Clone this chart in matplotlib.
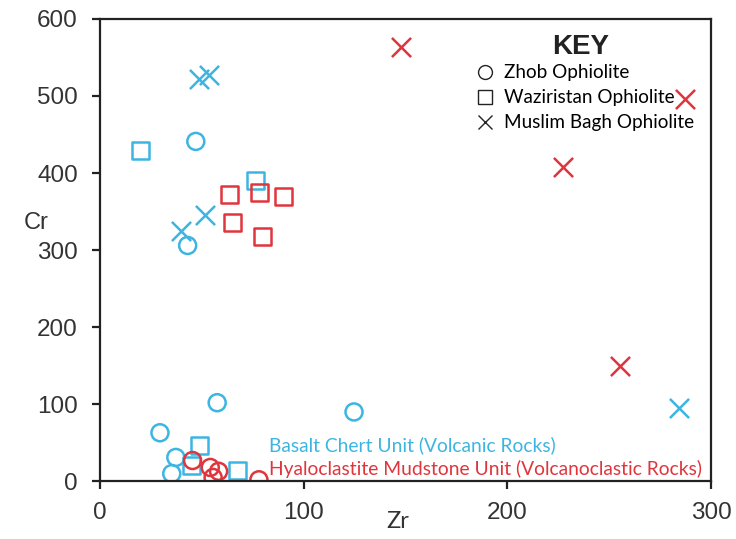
import matplotlib.pyplot as plt
from matplotlib.lines import Line2D

# Basalt Chert Unit (blue)
blue_circle_zr = [47, 43, 57.5, 124.7, 29.4, 37.2, 35.2]
blue_circle_cr = [441, 306, 102, 90, 63, 31, 10]
blue_square_zr = [19.6, 76.1, 49, 45, 67.3]
blue_square_cr = [429, 390, 46, 20, 14]
blue_cross_zr = [48.7, 53.6, 51.6, 39.7, 284.3]
blue_cross_cr = [522, 527, 345, 325, 95]

# Hyaloclastite Mudstone Unit (red)
red_circle_zr = [45.4, 54.1, 58.2, 55.5, 78]
red_circle_cr = [27, 18, 13, 5, 2]
red_square_zr = [63.4, 78.1, 90.2, 65, 79.7]
red_square_cr = [372, 375, 370, 336, 318]
red_cross_zr = [147.7, 287.4, 227.5, 255.2]
red_cross_cr = [563, 496, 408, 149]

blue = '#3db5e2'
red = '#e0353d'
dark = '#222222'

fig = plt.figure(figsize=(7.36, 5.39), dpi=100)
ax = fig.add_axes([0.136, 0.107, 0.830, 0.858])

ms = 150
lw = 1.8
ax.scatter(blue_circle_zr, blue_circle_cr, s=ms, marker='o', facecolors='none', edgecolors=blue, linewidths=lw)
ax.scatter(blue_square_zr, blue_square_cr, s=ms, marker='s', facecolors='none', edgecolors=blue, linewidths=lw)
ax.scatter(blue_cross_zr, blue_cross_cr, s=ms + 40, marker='x', color=blue, linewidths=lw)
ax.scatter(red_circle_zr, red_circle_cr, s=ms, marker='o', facecolors='none', edgecolors=red, linewidths=lw)
ax.scatter(red_square_zr, red_square_cr, s=ms, marker='s', facecolors='none', edgecolors=red, linewidths=lw)
ax.scatter(red_cross_zr, red_cross_cr, s=ms + 40, marker='x', color=red, linewidths=lw)

ax.set_xlim(0, 300)
ax.set_ylim(0, 600)
ax.set_xticks([0, 100, 200, 300])
ax.set_yticks([0, 100, 200, 300, 400, 500, 600])
for sp in ax.spines.values():
    sp.set_linewidth(1.6)
    sp.set_color(dark)
ax.tick_params(direction='out', length=6, width=1.6, color=dark,
               labelsize=17.5, labelcolor='#333333')
ax.tick_params(axis='x', pad=9)
ax.tick_params(axis='y', pad=10)
for lab in ax.get_xticklabels() + ax.get_yticklabels():
    lab.set_family('Liberation Sans')

fig.text(0.049, 0.586, 'Cr', fontsize=17, color='#333333', family='Liberation Sans', ha='center', va='center')
fig.text(0.540, 0.032, 'Zr', fontsize=17, color='#333333', family='Lato', ha='center', va='center')

ax.text(82.8, 47, 'Basalt Chert Unit (Volcanic Rocks)', color=blue, fontsize=13.9,
        family='Lato', va='center', ha='left')
ax.text(82.8, 16, 'Hyaloclastite Mudstone Unit (Volcanoclastic Rocks)', color=red, fontsize=13.9,
        family='Lato', va='center', ha='left')

# key
ax.text(235.8, 564, 'KEY', fontsize=20, fontweight='bold', color=dark,
        family='Liberation Sans', ha='center', va='center')
handles = [
    Line2D([], [], marker='o', ls='none', mfc='none', mec=dark, ms=10, mew=1),
    Line2D([], [], marker='s', ls='none', mfc='none', mec=dark, ms=9.5, mew=1),
    Line2D([], [], marker='x', ls='none', color=dark, ms=10, mew=1),
]
labels = ['Zhob Ophiolite', 'Waziristan Ophiolite', 'Muslim Bagh Ophiolite']
leg = ax.legend(handles, labels, loc='upper left', bbox_to_anchor=(0.606, 0.918),
                frameon=False, handlelength=0.8, handletextpad=0.6, labelspacing=0.42,
                borderaxespad=0, prop={'family': 'Lato', 'size': 13.6})

fig.savefig('out.png', dpi=100)
